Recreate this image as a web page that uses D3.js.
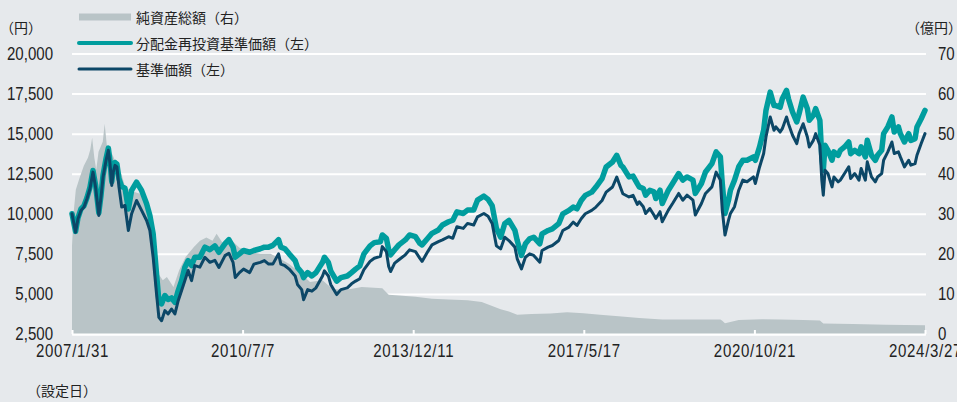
<!DOCTYPE html>
<html><head><meta charset="utf-8">
<script src="https://cdn.jsdelivr.net/npm/d3@7"></script>
<style>
html,body{margin:0;padding:0;background:#e6e9ec;}
svg{display:block;}
</style></head><body>
<svg id="chart" width="957" height="402"></svg>
<script>
// ---------- DATA ----------
const priceDates = [
 "2007-01-31","2007-02-26","2007-03-16","2007-04-07","2007-04-29","2007-05-21","2007-06-12","2007-07-04","2007-07-23","2007-08-16","2007-09-01","2007-09-16","2007-10-08","2007-10-25","2007-11-06","2007-11-19","2007-11-30","2007-12-13","2007-12-27",
 "2008-01-11","2008-01-31","2008-02-24","2008-03-20","2008-04-13","2008-05-19","2008-06-25","2008-08-01","2008-08-25","2008-09-18","2008-10-13","2008-10-30","2008-11-19","2008-12-13",
 "2009-01-06","2009-01-31","2009-02-25","2009-03-21","2009-04-15","2009-05-09","2009-06-02","2009-06-27","2009-07-21","2009-08-27","2009-10-03","2009-11-09","2009-12-15",
 "2010-01-14","2010-02-28","2010-03-28","2010-04-28","2010-05-14","2010-06-14","2010-07-14","2010-08-28","2010-09-28","2010-11-14","2010-12-14",
 "2011-01-14","2011-02-14","2011-03-28","2011-04-14","2011-05-14","2011-06-14","2011-07-28","2011-08-14","2011-09-14","2011-09-28","2011-10-28","2011-11-28","2011-12-28",
 "2012-02-14","2012-02-28","2012-03-28","2012-04-14","2012-05-28","2012-06-28","2012-08-14","2012-09-14","2012-10-14","2012-11-14","2012-12-14",
 "2013-01-28","2013-02-28","2013-04-14","2013-04-28","2013-05-28","2013-06-14","2013-06-28","2013-07-28","2013-08-28","2013-10-14","2013-11-14","2013-12-28",
 "2014-01-28","2014-02-14","2014-03-28","2014-04-28","2014-06-14","2014-07-14","2014-08-28","2014-09-28","2014-10-28","2014-12-14",
 "2015-01-14","2015-02-28","2015-03-28","2015-05-14","2015-06-14","2015-07-14","2015-08-14","2015-09-14","2015-10-14","2015-11-14","2015-12-28",
 "2016-01-14","2016-02-14","2016-03-14","2016-04-14","2016-05-14","2016-06-28","2016-07-14","2016-08-28","2016-09-28","2016-11-14","2016-12-14",
 "2017-01-28","2017-02-28","2017-03-28","2017-04-28","2017-05-28","2017-07-14","2017-08-14","2017-09-28","2017-10-28","2017-12-14",
 "2018-01-14","2018-02-14","2018-02-28","2018-04-14","2018-05-14","2018-06-14","2018-06-28","2018-07-28","2018-08-14","2018-09-14","2018-10-14","2018-10-28","2018-11-28","2018-12-14",
 "2019-01-28","2019-02-28","2019-04-14","2019-05-14","2019-06-14","2019-07-28","2019-08-14","2019-09-28","2019-10-28","2019-12-14",
 "2020-01-14","2020-02-14","2020-02-28","2020-03-19","2020-04-14","2020-04-28","2020-05-28","2020-06-28","2020-07-28","2020-08-28","2020-10-14","2020-10-28","2020-11-28","2020-12-28",
 "2021-01-14","2021-02-14","2021-03-14","2021-03-28","2021-04-28","2021-05-14","2021-06-14","2021-06-28","2021-07-28","2021-08-28","2021-09-14","2021-10-14","2021-11-14","2021-11-28","2021-12-28",
 "2022-01-14","2022-02-14","2022-02-28","2022-03-11","2022-03-24","2022-04-14","2022-05-14","2022-05-28","2022-06-28","2022-07-14","2022-08-14","2022-09-14","2022-09-28","2022-10-28","2022-11-28","2022-12-14",
 "2023-01-14","2023-01-28","2023-02-28","2023-03-28","2023-04-14","2023-05-14","2023-05-28","2023-06-28","2023-07-28","2023-08-14","2023-09-14","2023-09-28","2023-10-28","2023-11-28","2023-12-14",
 "2024-01-14","2024-01-28","2024-02-28","2024-03-27"
];
// 基準価額（左）
const navValues = [
 10000,8850,9690,10210,10420,10940,11560,12600,11670,9900,11040,12290,13330,13960,13130,11770,12600,13020,12920,
 11670,10420,10520,8960,10000,10830,10210,9580,8960,7290,5000,3540,3330,3960,
 3750,4060,3750,4580,5210,5830,6460,5830,6770,6670,7290,6970,7100,
 6650,7390,7540,6970,6020,6330,6550,6330,6860,6970,7080,
 6860,6860,7500,6860,6760,6550,6120,5590,5270,4640,5270,5170,5380,
 6120,6440,6120,5590,4960,5270,5380,5630,5800,5950,6510,
 7030,7230,7340,7950,7640,6710,6400,6920,7130,7440,7750,7640,
 7230,7030,7640,8060,8260,8370,8570,8470,9190,9090,
 9400,9300,9810,10020,9850,9400,8000,7810,8540,8330,7920,
 7190,6560,7290,7500,7400,6980,7710,7920,8020,8330,8960,
 9170,9480,9270,9690,10000,10210,10420,10830,11350,11670,
 12290,11560,11250,11050,11150,10580,10750,10440,10020,10330,9920,9710,10130,9500,
 10230,10640,11270,10850,11160,10850,9920,10640,11270,11680,
 12600,12100,10230,8670,9600,10020,10440,11470,12100,12000,12300,11890,12920,13760,
 14790,16040,15210,15420,15100,15310,16040,15620,14900,14380,15000,15620,14790,14170,14580,
 15000,14270,12100,11160,12720,12510,11680,12300,11990,12100,12510,12930,12200,12510,12100,12830,
 12100,13240,12300,11990,12300,12510,13340,13860,14480,13760,13860,13550,12930,13340,13030,
 13130,13650,14380,15000
];
// 分配金再投資基準価額（左）
const reinvestValues = [
 10000,8900,9750,10300,10500,11000,11650,12700,11800,10050,11150,12400,13450,14100,13300,12000,12800,13200,13100,
 12200,11700,11600,10300,11460,11980,11460,10630,9900,8750,6250,4580,4380,4900,
 4650,4750,4480,5210,5830,6670,7080,6770,7290,7290,7920,7760,8000,
 7600,8140,8390,7920,7290,7500,7710,7600,7710,7820,7920,
 7920,8030,8390,7920,7820,7500,7080,6650,6330,6020,6330,6120,6330,
 6970,7290,6970,6440,5800,6020,6120,6330,6550,6750,7500,
 8000,8200,8260,8680,8470,7750,7440,7750,8060,8370,8680,8570,
 8160,8060,8470,8780,8990,9300,9500,9600,10120,10020,
 10230,10230,10850,11100,10900,10500,9100,8540,9380,9580,8960,
 8330,7400,8130,8440,8540,8130,8750,8960,9060,9380,10000,
 10210,10420,10310,10830,11150,11350,11670,12190,12920,13230,
 13650,13020,12920,12300,12350,11880,11680,11580,11160,11470,11370,10950,11470,10640,
 11470,11890,12510,12100,12300,12100,11270,11890,12610,13130,
 13860,13550,11890,10020,10850,11470,12100,12930,13340,13340,13550,13340,14170,15210,
 16450,17590,16760,16750,16650,17180,17700,17180,16350,15730,16240,17280,16560,15830,16140,
 16560,15830,13550,12720,14270,13960,13340,13860,13650,13960,14170,14480,13750,13960,13750,14170,
 13550,14590,13650,13340,13650,13960,15000,15420,16040,15100,15420,15000,14480,15000,14580,
 14690,15420,15930,16450
];
// 純資産総額（右）億円
const assetDates = [
 "2007-01-31","2007-02-14","2007-02-28","2007-03-28","2007-04-28","2007-05-28","2007-06-14","2007-06-28","2007-07-14","2007-07-28","2007-08-14","2007-09-14","2007-09-28","2007-10-14","2007-10-28","2007-11-28","2007-12-28",
 "2008-01-28","2008-02-28","2008-04-28","2008-06-14","2008-07-28","2008-08-28","2008-09-14","2008-10-28","2008-11-28","2008-12-28",
 "2009-02-14","2009-03-28","2009-05-14","2009-07-14","2009-08-28","2009-10-14","2009-11-28","2009-12-28",
 "2010-02-14","2010-03-28","2010-06-14","2010-08-28","2010-11-14",
 "2011-01-28","2011-03-28","2011-06-14","2011-08-28","2011-11-14",
 "2012-02-14","2012-04-28","2012-07-28","2012-11-28",
 "2013-04-28","2013-06-14","2013-08-28","2013-12-28",
 "2014-04-28","2014-08-28",
 "2015-01-14","2015-04-28","2015-07-14","2015-09-14","2015-11-14",
 "2016-01-14","2016-04-28","2016-09-14",
 "2017-01-14","2017-05-14","2017-09-14",
 "2018-01-28","2018-06-28","2018-12-14",
 "2019-08-28",
 "2020-02-14","2020-02-28","2020-03-19","2020-06-28","2020-12-14",
 "2021-04-28","2021-10-14",
 "2022-02-14","2022-03-11","2022-10-14",
 "2023-06-14",
 "2024-03-27"
];
const assetValues = [
 22,31,36,39,42,44,46,49,44,41,45.5,48,52.5,47,46.5,44.5,42,
 40,36.5,35.5,35,33.3,30,23,15,13.4,14.2,
 11.7,15.9,19.2,21.7,23.3,24.1,23.3,25,
 22.5,24,21.5,20.5,20,
 20,19,17.5,15.5,13,
 13.4,11.2,11,11.7,
 11.4,9.8,9.6,9.3,
 8.8,8.6,
 8.4,8,7,6.2,5.6,
 4.8,5,5.1,
 5.4,5.2,4.8,
 4.4,4,3.6,
 3.6,
 3.6,3.3,2.7,3.5,3.7,
 3.6,3.5,
 3.4,2.6,2.5,
 2.3,
 2.2
];
const yTicks = [2500,5000,7500,10000,12500,15000,17500,20000];
const y2Ticks = [0,10,20,30,40,50,60,70];
const xTickDates = ["2007-01-31","2010-07-07","2013-12-11","2017-05-17","2020-10-21","2024-03-27"];
const xTickLabels = ["2007/1/31","2010/7/7","2013/12/11","2017/5/17","2020/10/21","2024/3/27"];
const legendLabels = ["純資産総額（右）","分配金再投資基準価額（左）","基準価額（左）"];

// ---------- CHART ----------
const W = 957, H = 402;
const X0 = 72, X1 = 925, YB = 334, YT = 53.5;
const BG = "#e6e9ec", AREA = "#b9c4c7", TEAL = "#009d9e", NAVY = "#0c4767", TXT = "#222";
const numFont = "'Liberation Sans',Arial,sans-serif";
const jpFont = "'Noto Sans CJK JP','Noto Sans',sans-serif";
const SX = 0.86;          // horizontal squeeze of number labels
const NUM_SIZE = 17.5;
const parse = d3.timeParse("%Y-%m-%d");

const x = d3.scaleTime().domain([parse("2007-01-31"), parse("2024-03-27")]).range([X0, X1]);
const y = d3.scaleLinear().domain([2500, 20000]).range([YB, YT]);
const y2 = d3.scaleLinear().domain([0, 70]).range([YB, YT]);

const svg = d3.select("#chart");
svg.append("rect").attr("width", W).attr("height", H).attr("fill", BG);

// left axis + grid
const gy = svg.append("g").attr("transform", `translate(${X0},0)`)
  .call(d3.axisLeft(y).tickValues(yTicks).tickFormat(d3.format(","))
    .tickSizeInner(-(X1 - X0 + 1)).tickSizeOuter(0).tickPadding(19));
gy.select(".domain").remove();
gy.selectAll(".tick line").attr("stroke", "#fff").attr("stroke-width", 2);
gy.selectAll(".tick text").attr("font-family", numFont).attr("font-size", NUM_SIZE).attr("fill", TXT)
  .attr("x", -19 / SX).attr("transform", `scale(${SX},1)`);

// right axis
const gy2 = svg.append("g").attr("transform", `translate(${X1},0)`)
  .call(d3.axisRight(y2).tickValues(y2Ticks).tickSize(0).tickPadding(13));
gy2.select(".domain").remove();
gy2.selectAll(".tick text").attr("font-family", numFont).attr("font-size", NUM_SIZE).attr("fill", TXT)
  .attr("x", 13 / SX).attr("transform", `scale(${SX},1)`);

// area (net assets)
const assetPts = assetDates.map((d, i) => ({ d: parse(d), v: assetValues[i] }));
svg.append("path").datum(assetPts)
  .attr("fill", AREA)
  .attr("d", d3.area().x(p => x(p.d)).y0(y2(0)).y1(p => y2(p.v)));

// lines
const pd = priceDates.map(parse);
const reinvestPts = pd.map((d, i) => ({ d, v: reinvestValues[i] }));
const navPts = pd.map((d, i) => ({ d, v: navValues[i] }));
const line = d3.line().x(p => x(p.d)).y(p => y(p.v));
svg.append("path").datum(reinvestPts).attr("fill", "none").attr("stroke", TEAL)
  .attr("stroke-width", 5.5).attr("stroke-linejoin", "round").attr("stroke-linecap", "round").attr("d", line);
svg.append("path").datum(navPts).attr("fill", "none").attr("stroke", NAVY)
  .attr("stroke-width", 3).attr("stroke-linejoin", "round").attr("stroke-linecap", "round").attr("d", line);

// bottom axis
const gx = svg.append("g").attr("transform", `translate(0,${YB})`)
  .call(d3.axisBottom(x).tickValues(xTickDates.map(parse)).tickFormat((d, i) => xTickLabels[i])
    .tickSizeInner(-4).tickSizeOuter(0).tickPadding(11));
gx.select(".domain").attr("stroke", "#fff").attr("stroke-width", 2);
gx.selectAll(".tick line").attr("stroke", "#fff").attr("stroke-width", 2);
gx.selectAll(".tick text").attr("font-family", numFont).attr("font-size", NUM_SIZE)
  .attr("letter-spacing", "0.8px").attr("fill", TXT).attr("transform", `scale(${SX},1)`);

// unit labels
svg.append("text").attr("x", 0).attr("y", 27).attr("dominant-baseline", "central")
  .attr("font-family", jpFont).attr("font-size", 14).attr("fill", TXT).text("（円）");
svg.append("text").attr("x", 906).attr("y", 27).attr("dominant-baseline", "central")
  .attr("font-family", jpFont).attr("font-size", 14).attr("fill", TXT).text("（億円）");
svg.append("text").attr("x", 27).attr("y", 390).attr("dominant-baseline", "central")
  .attr("font-family", jpFont).attr("font-size", 14).attr("fill", TXT).text("（設定日）");

// legend
const lg = svg.append("g");
lg.append("rect").attr("x", 79).attr("y", 13.5).attr("width", 52).attr("height", 7).attr("fill", AREA);
lg.append("line").attr("x1", 79).attr("x2", 131).attr("y1", 43).attr("y2", 43)
  .attr("stroke", TEAL).attr("stroke-width", 4).attr("stroke-linecap", "round");
lg.append("line").attr("x1", 79).attr("x2", 131).attr("y1", 69).attr("y2", 69)
  .attr("stroke", NAVY).attr("stroke-width", 3).attr("stroke-linecap", "round");
[17, 43, 69].forEach((yy, i) => {
  lg.append("text").attr("x", 136).attr("y", yy).attr("dominant-baseline", "central")
    .attr("font-family", jpFont).attr("font-size", 14).attr("fill", TXT).text(legendLabels[i]);
});
</script>
</body></html>
